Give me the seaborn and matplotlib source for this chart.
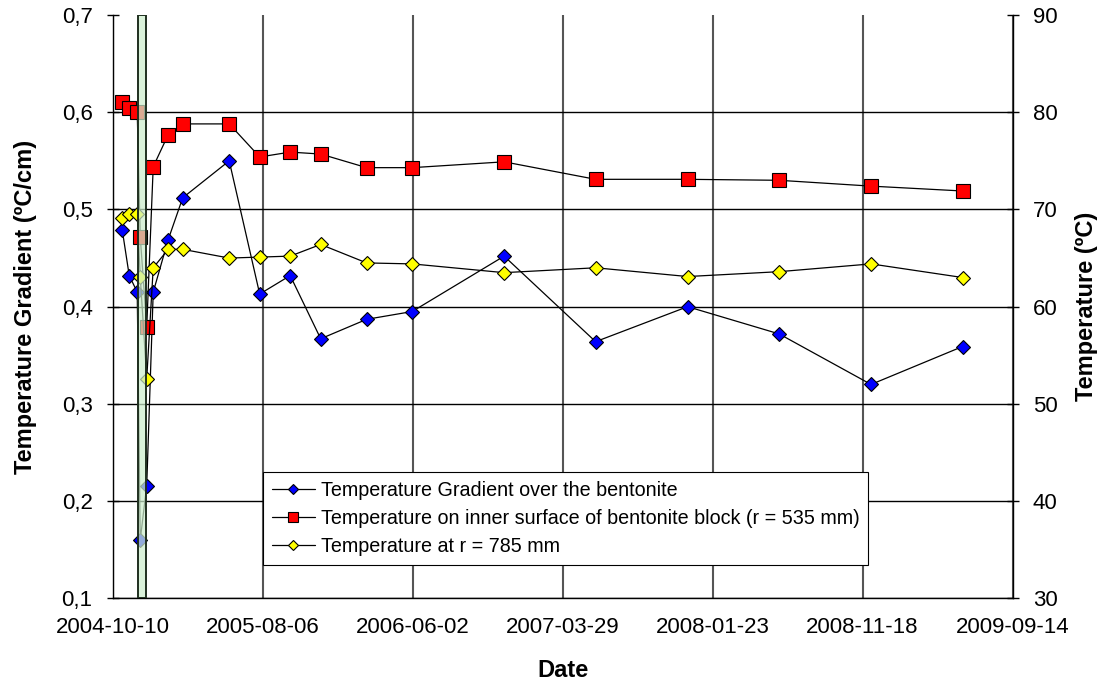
import matplotlib
matplotlib.use("Agg")
import matplotlib.pyplot as plt
import matplotlib.dates as mdates
import numpy as np
import pandas as pd
import seaborn as sns

# Measurement days counted from the start date 2004-10-10
start_date = "2004-10-10"
days = [19, 33, 49, 55, 68, 81, 111, 140, 233, 294, 355, 416, 508, 599,
        783, 966, 1150, 1333, 1517, 1700]

# Temperature gradient over the bentonite (ºC/cm), left axis
gradient = [0.479, 0.432, 0.415, 0.160, 0.216, 0.415, 0.469, 0.512, 0.550,
            0.413, 0.432, 0.367, 0.387, 0.395, 0.452, 0.364, 0.400, 0.372,
            0.320, 0.359]

# Temperature on inner surface of bentonite block (ºC), right axis
temp_inner = [81.1, 80.4, 80.0, 67.2, 57.9, 74.4, 77.7, 78.8, 78.8, 75.4,
              75.9, 75.7, 74.3, 74.3, 74.9, 73.1, 73.1, 73.0, 72.4, 71.9]

# Temperature at r = 785 mm (ºC), right axis
temp_785 = [69.1, 69.5, 69.5, 63.1, 52.6, 64.0, 65.9, 65.9, 65.0, 65.1,
            65.2, 66.4, 64.5, 64.4, 63.5, 64.0, 63.1, 63.6, 64.4, 63.0]

labels = ["Temperature Gradient over the bentonite",
          "Temperature on inner surface of bentonite block (r = 535 mm)",
          "Temperature at r = 785 mm"]

# Shaded event period (days from start)
event_days = [51, 66]

# Date axis ticks every 300 days
tick_step = 300
n_ticks = 7

sns.set_theme(style="white")
plt.rcParams["font.family"] = ["Liberation Sans", "DejaVu Sans"]
plt.rcParams["text.color"] = "black"
plt.rcParams["axes.labelcolor"] = "black"

base = pd.Timestamp(start_date)
dates = [base + pd.Timedelta(days=d) for d in days]
df = pd.DataFrame({"date": dates, "gradient": gradient,
                   "inner": temp_inner, "r785": temp_785})

fig = plt.figure(figsize=(11.02, 6.86), dpi=100)
ax = fig.add_axes([0.1023, 0.1278, 0.8165, 0.8503])
ax2 = ax.twinx()

ax.set_zorder(1)
ax2.set_zorder(2)
ax.patch.set_visible(True)
ax.patch.set_facecolor("white")
ax2.patch.set_visible(False)

line_kw = dict(color="black", linewidth=0.9, sort=False, estimator=None,
               markeredgecolor="black", markeredgewidth=0.8)

sns.lineplot(data=df, x="date", y="gradient", ax=ax, marker="D",
             markersize=7, markerfacecolor="#0000ff", label=labels[0],
             legend=False, **line_kw)
sns.lineplot(data=df, x="date", y="inner", ax=ax2, marker="s",
             markersize=9.5, markerfacecolor="#ff0000", label=labels[1],
             legend=False, **line_kw)
sns.lineplot(data=df, x="date", y="r785", ax=ax2, marker="D",
             markersize=7, markerfacecolor="#ffff00", label=labels[2],
             legend=False, **line_kw)

# Shaded event band drawn above the series
ax2.axvspan(base + pd.Timedelta(days=event_days[0]),
            base + pd.Timedelta(days=event_days[1]),
            facecolor=(0.80, 0.93, 0.80, 0.72), edgecolor="#1f2f1f",
            linewidth=1.4, zorder=10)

# Axis ranges and ticks
ticks = [base + pd.Timedelta(days=tick_step * k) for k in range(n_ticks)]
ax.set_xlim(ticks[0], ticks[-1])
ax.set_xticks(ticks)
ax.xaxis.set_major_formatter(mdates.DateFormatter("%Y-%m-%d"))

yticks = np.arange(0.1, 0.71, 0.1)
ax.set_ylim(0.1, 0.7)
ax.set_yticks(yticks)
ax.set_yticklabels([f"{v:.1f}".replace(".", ",") for v in yticks])
ax2.set_ylim(30, 90)
ax2.set_yticks(np.arange(30, 91, 10))

# Grid
ax.grid(True, axis="y", color="black", linewidth=1.0)
ax.grid(True, axis="x", color="#555555", linewidth=1.5)
ax.set_axisbelow(True)
ax.get_ygridlines()[-1].set_visible(False)

for a in (ax, ax2):
    for side in ("left", "right", "bottom"):
        a.spines[side].set_color("black")
        a.spines[side].set_linewidth(1.0)
    a.spines["top"].set_visible(False)
ax.spines["right"].set_visible(False)
ax2.spines["left"].set_visible(False)
ax2.spines["bottom"].set_visible(False)

tick_kw = dict(direction="inout", length=9, width=1.0, color="black",
               labelsize=16, labelcolor="black")
ax.tick_params(axis="x", pad=9, **tick_kw)
ax.tick_params(axis="y", left=True, pad=10, **tick_kw)
ax2.tick_params(axis="y", right=True, pad=10, **tick_kw)

ax.set_xlabel("Date", fontsize=17, fontweight="bold", labelpad=15)
ax.set_ylabel("Temperature Gradient (ºC/cm)", fontsize=17,
              fontweight="bold", labelpad=18)
ax2.set_ylabel("Temperature (ºC)", fontsize=17, fontweight="bold",
               labelpad=13)

handles = ax.get_lines()[:1] + ax2.get_lines()[:2]
leg = ax2.legend(handles, labels, loc="upper left",
                 bbox_to_anchor=(0.1666, 0.2165), borderaxespad=0,
                 frameon=True, fancybox=False, framealpha=1,
                 edgecolor="black", fontsize=14.2, handlelength=2.2,
                 handletextpad=0.3, labelspacing=0.45, borderpad=0.45,
                 markerscale=0.8)
leg.get_frame().set_linewidth(0.8)
leg.set_zorder(20)

fig.savefig("out.png", dpi=100)
